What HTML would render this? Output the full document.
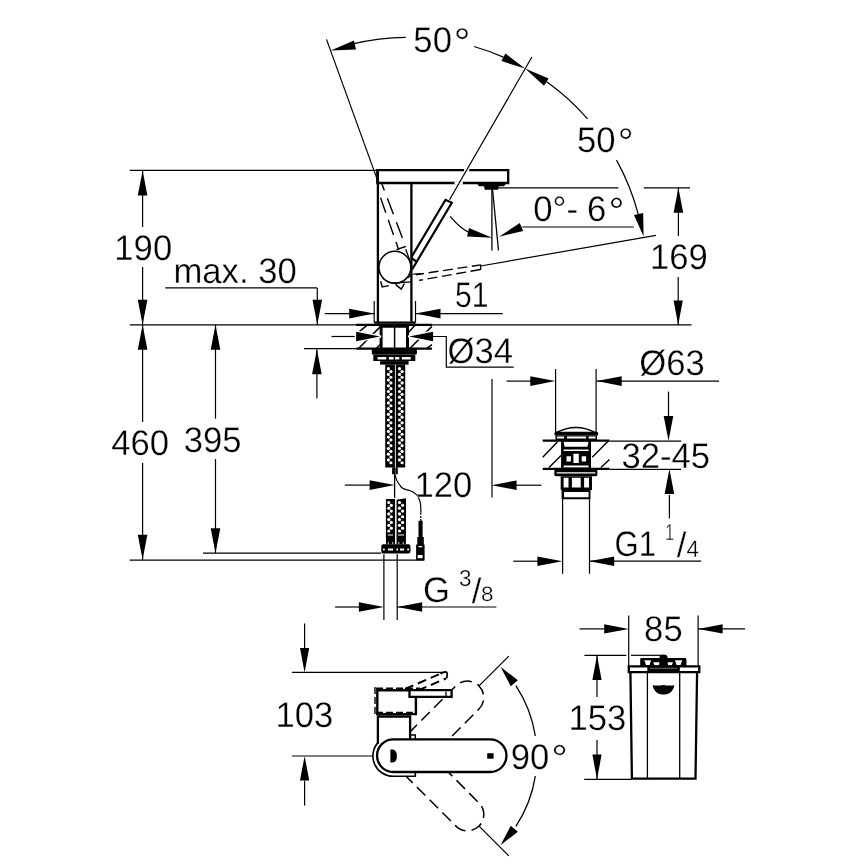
<!DOCTYPE html>
<html><head><meta charset="utf-8"><style>html,body{margin:0;padding:0;background:#fff;}svg{display:block;will-change:transform}</style></head>
<body><svg width="868" height="868" viewBox="0 0 868 868" text-rendering="geometricPrecision" font-family="'Liberation Sans', sans-serif" stroke="#000" fill="none">
<rect x="0" y="0" width="868" height="868" fill="#fff" stroke="none"/>
<defs><pattern id="braid" width="4" height="4" patternUnits="userSpaceOnUse"><rect width="4" height="4" fill="#222"/><circle cx="2" cy="2" r="1.1" fill="#fff"/></pattern></defs>
<line x1="129.70" y1="170.40" x2="377.00" y2="170.40" stroke-width="1.2" />
<line x1="129.70" y1="324.90" x2="691.50" y2="324.90" stroke-width="1.2" />
<line x1="142.60" y1="170.40" x2="142.60" y2="227.00" stroke-width="1.2" />
<polygon points="142.60,170.40 147.40,195.40 137.80,195.40" stroke="none" fill="#000"/>
<line x1="142.60" y1="267.00" x2="142.60" y2="324.80" stroke-width="1.2" />
<polygon points="142.60,324.80 137.80,299.80 147.40,299.80" stroke="none" fill="#000"/>
<line x1="165.20" y1="287.90" x2="317.30" y2="287.90" stroke-width="1.2" />
<line x1="317.30" y1="287.90" x2="317.30" y2="324.80" stroke-width="1.2" />
<polygon points="317.30,324.80 312.50,299.80 322.10,299.80" stroke="none" fill="#000"/>
<line x1="304.00" y1="348.70" x2="356.20" y2="348.70" stroke-width="1.2" />
<line x1="316.90" y1="349.20" x2="316.90" y2="398.40" stroke-width="1.2" />
<polygon points="316.90,349.20 321.70,374.20 312.10,374.20" stroke="none" fill="#000"/>
<line x1="324.70" y1="313.60" x2="374.20" y2="313.60" stroke-width="1.2" />
<polygon points="374.20,313.60 349.20,318.40 349.20,308.80" stroke="none" fill="#000"/>
<line x1="374.20" y1="301.00" x2="374.20" y2="322.60" stroke-width="1.2" />
<line x1="415.50" y1="301.00" x2="415.50" y2="322.60" stroke-width="1.2" />
<line x1="415.50" y1="313.60" x2="502.80" y2="313.60" stroke-width="1.2" />
<polygon points="415.50,313.60 440.50,308.80 440.50,318.40" stroke="none" fill="#000"/>
<line x1="142.60" y1="324.80" x2="142.60" y2="422.00" stroke-width="1.2" />
<polygon points="142.60,324.80 147.40,349.80 137.80,349.80" stroke="none" fill="#000"/>
<line x1="142.60" y1="463.00" x2="142.60" y2="559.70" stroke-width="1.2" />
<polygon points="142.60,559.70 137.80,534.70 147.40,534.70" stroke="none" fill="#000"/>
<line x1="215.50" y1="324.80" x2="215.50" y2="418.70" stroke-width="1.2" />
<polygon points="215.50,324.80 220.30,349.80 210.70,349.80" stroke="none" fill="#000"/>
<line x1="215.50" y1="459.00" x2="215.50" y2="553.20" stroke-width="1.2" />
<polygon points="215.50,553.20 210.70,528.20 220.30,528.20" stroke="none" fill="#000"/>
<line x1="203.00" y1="553.20" x2="381.30" y2="553.20" stroke-width="1.2" />
<line x1="129.70" y1="560.10" x2="424.20" y2="560.10" stroke-width="1.2" />
<path d="M377.3,170.1 H508.2 V183 H377.3 Z" stroke-width="2.3" fill="none" />
<line x1="377.90" y1="170.10" x2="377.90" y2="322.60" stroke-width="2.3" />
<line x1="411.40" y1="183.00" x2="411.40" y2="322.60" stroke-width="2.3" />
<line x1="374.20" y1="322.60" x2="415.50" y2="322.60" stroke-width="2.3" />
<line x1="464.00" y1="170.10" x2="469.20" y2="170.10" stroke-width="3" stroke="#fff"/>
<line x1="454.50" y1="183.00" x2="462.80" y2="183.00" stroke-width="3" stroke="#fff"/>
<line x1="531.90" y1="57.00" x2="449.50" y2="199.80" stroke-width="1.2" />
<path d="M477,183 L506,183 L504,186 L499,186 L498,189.5 L485,189.5 L484,186 L479,186 Z" stroke-width="0.5" fill="#000" />
<line x1="499.00" y1="187.80" x2="618.40" y2="187.80" stroke-width="1.2" />
<line x1="643.80" y1="187.80" x2="690.00" y2="187.80" stroke-width="1.2" />
<line x1="678.40" y1="187.80" x2="678.40" y2="236.00" stroke-width="1.2" />
<polygon points="678.40,187.80 683.20,212.80 673.60,212.80" stroke="none" fill="#000"/>
<line x1="678.20" y1="277.00" x2="678.20" y2="324.90" stroke-width="1.2" />
<polygon points="678.20,324.90 673.60,300.50 682.80,300.50" stroke="none" fill="#000"/>
<line x1="326.50" y1="39.40" x2="377.30" y2="179.60" stroke-width="1.2" />
<line x1="480.60" y1="266.00" x2="655.90" y2="235.30" stroke-width="1.2" />
<path d="M352.96,43.83 A237.9,237.9 0 0 1 405.70,37.31" stroke-width="1.2" fill="none" />
<polygon points="330.70,50.40 353.98,40.41 356.02,49.39" stroke="none" fill="#000"/>
<path d="M473.96,46.54 A237.9,237.9 0 0 1 503.46,57.16" stroke-width="1.2" fill="none" />
<polygon points="525.00,68.60 501.41,61.11 505.39,53.49" stroke="none" fill="#000"/>
<path d="M546.67,81.68 A237.9,237.9 0 0 1 587.56,118.79" stroke-width="1.2" fill="none" />
<polygon points="525.00,68.60 548.61,78.58 543.99,85.82" stroke="none" fill="#000"/>
<path d="M616.54,160.16 A237.9,237.9 0 0 1 638.22,214.10" stroke-width="1.2" fill="none" />
<polygon points="643.60,236.50 634.01,215.02 643.19,212.98" stroke="none" fill="#000"/>
<line x1="522.30" y1="227.00" x2="633.70" y2="227.00" stroke-width="1.2" />
<path d="M450.1,216.3 C455,222 460,228 468,231.8" stroke-width="1.3" fill="none" />
<polygon points="492.20,237.80 467.05,236.49 468.95,228.11" stroke="none" fill="#000"/>
<polygon points="499.10,236.70 519.79,223.05 523.21,230.95" stroke="none" fill="#000"/>
<line x1="491.90" y1="188.00" x2="491.90" y2="250.50" stroke-width="1.3" />
<line x1="492.40" y1="188.00" x2="498.50" y2="250.50" stroke-width="1.3" />
<path d="M411.5,257 L445.5,199.8 L451.8,202.7 L412.1,269.5 M411.5,258 L416.1,261.4" stroke-width="2.2" fill="none" stroke-linejoin="miter"/>
<path d="M394.9,267.3 m-16,0 a16,16 0 1 0 32,0 a16,16 0 1 0 -32,0" stroke-width="1.5" fill="none" />
<path d="M378.2,191 L398.7,249.7" stroke-width="1.4" fill="none" stroke-dasharray="16,7.5" stroke-dashoffset="-7"/>
<path d="M381.2,182 L405.6,246.5" stroke-width="1.4" fill="none" stroke-dasharray="17,8.5" stroke-dashoffset="8"/>
<line x1="396.40" y1="249.70" x2="405.60" y2="246.50" stroke-width="1.4" />
<path d="M405.7,249.2 L412,266.6" stroke-width="1.3" fill="none" />
<path d="M416.1,274.7 L480.6,264.9" stroke-width="1.4" fill="none" stroke-dasharray="10,4.6" stroke-dashoffset="2"/>
<path d="M419,280.4 L480.6,269.5" stroke-width="1.4" fill="none" stroke-dasharray="10,4.6" stroke-dashoffset="6"/>
<line x1="480.60" y1="264.50" x2="480.60" y2="270.00" stroke-width="1.4" />
<path d="M380.7,281.2 L382.2,286.9 L388.9,285.6" stroke-width="1.4" fill="none" />
<path d="M395.5,284.4 L401.2,289.1 L404.4,283.7" stroke-width="1.4" fill="none" />
<line x1="391.10" y1="283.10" x2="412.00" y2="281.80" stroke-width="1.3" />
<line x1="407.60" y1="278.00" x2="412.00" y2="274.20" stroke-width="1.2" />
<line x1="413.30" y1="274.20" x2="420.90" y2="273.60" stroke-width="1.2" />
<line x1="356.20" y1="324.90" x2="431.90" y2="324.90" stroke-width="2.3" />
<line x1="356.20" y1="348.70" x2="431.90" y2="348.70" stroke-width="2.3" />
<line x1="356.20" y1="334.20" x2="367.60" y2="324.90" stroke-width="1.5" />
<line x1="358.80" y1="348.20" x2="380.10" y2="326.90" stroke-width="1.5" />
<line x1="376.40" y1="348.20" x2="380.80" y2="344.00" stroke-width="1.5" />
<line x1="407.50" y1="333.50" x2="414.80" y2="325.40" stroke-width="1.5" />
<line x1="410.10" y1="348.20" x2="431.90" y2="326.40" stroke-width="1.5" />
<line x1="427.20" y1="348.20" x2="431.90" y2="344.60" stroke-width="1.5" />
<path d="M379.6,324.9 H382.6 V348.7 H379.6 Z M406,324.9 H409 V348.7 H406 Z " fill="#000" stroke="none" fill-rule="evenodd" />
<line x1="394.60" y1="324.90" x2="394.60" y2="348.70" stroke-width="1.5" />
<line x1="379.60" y1="326.50" x2="409.00" y2="326.50" stroke-width="2.5" />
<line x1="331.50" y1="336.50" x2="356.20" y2="336.50" stroke-width="1.2" />
<polygon points="380.10,336.50 356.10,341.30 356.10,331.70" stroke="#fff" stroke-width="2.5" stroke-linejoin="round" fill="#000"/>
<polygon points="380.10,336.50 356.10,341.30 356.10,331.70" stroke="none" fill="#000"/>
<polygon points="409.10,336.50 433.10,331.70 433.10,341.30" stroke="#fff" stroke-width="2.5" stroke-linejoin="round" fill="#000"/>
<polygon points="409.10,336.50 433.10,331.70 433.10,341.30" stroke="none" fill="#000"/>
<path d="M433,336.5 H446.3 V367.1 H513.7" stroke-width="1.2" fill="none" />
<path d="M371.8,348.7 H416.9 V353.5 Q416.9,354.4 416,354.4 H372.7 Q371.8,354.4 371.8,353.5 Z" fill="#000" stroke="none" fill-rule="evenodd" />
<path d="M373.3,354.4 H415.3 V361.1 H373.3 Z M377.5,357 H386.3 V359.6 H377.5 Z M388.9,357 H393.6 V359.6 H388.9 Z M395.1,357 H399.3 V359.6 H395.1 Z M401.8,357 H410.7 V359.6 H401.8 Z " fill="#000" stroke="none" fill-rule="evenodd" />
<path d="M380.1,361.1 H408.6 V364.6 H380.1 Z " fill="#000" stroke="none" fill-rule="evenodd" />
<path d="M385.2,364.6 H405.2 V467.4 H385.2 Z " fill="#000" stroke="none" fill-rule="evenodd" />
<line x1="395.40" y1="364.60" x2="395.40" y2="474.30" stroke-width="0.9" stroke="#fff"/>
<path d="M392.1,467.4 H397.8 V474.3 H392.1 Z " fill="#000" stroke="none" fill-rule="evenodd" />
<line x1="395.40" y1="467.40" x2="395.40" y2="474.30" stroke-width="0.5" stroke="#bbb"/>
<circle cx="388.4" cy="368.70" r="1.6" fill="#fff" stroke="none"/>
<circle cx="399.5" cy="368.70" r="1.6" fill="#fff" stroke="none"/>
<circle cx="390.9" cy="371.55" r="1.6" fill="#fff" stroke="none"/>
<circle cx="402.1" cy="371.55" r="1.6" fill="#fff" stroke="none"/>
<circle cx="388.4" cy="374.40" r="1.6" fill="#fff" stroke="none"/>
<circle cx="399.5" cy="374.40" r="1.6" fill="#fff" stroke="none"/>
<circle cx="390.9" cy="377.25" r="1.6" fill="#fff" stroke="none"/>
<circle cx="402.1" cy="377.25" r="1.6" fill="#fff" stroke="none"/>
<circle cx="388.4" cy="380.10" r="1.6" fill="#fff" stroke="none"/>
<circle cx="399.5" cy="380.10" r="1.6" fill="#fff" stroke="none"/>
<circle cx="390.9" cy="382.95" r="1.6" fill="#fff" stroke="none"/>
<circle cx="402.1" cy="382.95" r="1.6" fill="#fff" stroke="none"/>
<circle cx="388.4" cy="385.80" r="1.6" fill="#fff" stroke="none"/>
<circle cx="399.5" cy="385.80" r="1.6" fill="#fff" stroke="none"/>
<circle cx="390.9" cy="388.65" r="1.6" fill="#fff" stroke="none"/>
<circle cx="402.1" cy="388.65" r="1.6" fill="#fff" stroke="none"/>
<circle cx="388.4" cy="391.50" r="1.6" fill="#fff" stroke="none"/>
<circle cx="399.5" cy="391.50" r="1.6" fill="#fff" stroke="none"/>
<circle cx="390.9" cy="394.35" r="1.6" fill="#fff" stroke="none"/>
<circle cx="402.1" cy="394.35" r="1.6" fill="#fff" stroke="none"/>
<circle cx="388.4" cy="397.20" r="1.6" fill="#fff" stroke="none"/>
<circle cx="399.5" cy="397.20" r="1.6" fill="#fff" stroke="none"/>
<circle cx="390.9" cy="400.05" r="1.6" fill="#fff" stroke="none"/>
<circle cx="402.1" cy="400.05" r="1.6" fill="#fff" stroke="none"/>
<circle cx="388.4" cy="402.90" r="1.6" fill="#fff" stroke="none"/>
<circle cx="399.5" cy="402.90" r="1.6" fill="#fff" stroke="none"/>
<circle cx="390.9" cy="405.75" r="1.6" fill="#fff" stroke="none"/>
<circle cx="402.1" cy="405.75" r="1.6" fill="#fff" stroke="none"/>
<circle cx="388.4" cy="408.60" r="1.6" fill="#fff" stroke="none"/>
<circle cx="399.5" cy="408.60" r="1.6" fill="#fff" stroke="none"/>
<circle cx="390.9" cy="411.45" r="1.6" fill="#fff" stroke="none"/>
<circle cx="402.1" cy="411.45" r="1.6" fill="#fff" stroke="none"/>
<circle cx="388.4" cy="414.30" r="1.6" fill="#fff" stroke="none"/>
<circle cx="399.5" cy="414.30" r="1.6" fill="#fff" stroke="none"/>
<circle cx="390.9" cy="417.15" r="1.6" fill="#fff" stroke="none"/>
<circle cx="402.1" cy="417.15" r="1.6" fill="#fff" stroke="none"/>
<circle cx="388.4" cy="420.00" r="1.6" fill="#fff" stroke="none"/>
<circle cx="399.5" cy="420.00" r="1.6" fill="#fff" stroke="none"/>
<circle cx="390.9" cy="422.85" r="1.6" fill="#fff" stroke="none"/>
<circle cx="402.1" cy="422.85" r="1.6" fill="#fff" stroke="none"/>
<circle cx="388.4" cy="425.70" r="1.6" fill="#fff" stroke="none"/>
<circle cx="399.5" cy="425.70" r="1.6" fill="#fff" stroke="none"/>
<circle cx="390.9" cy="428.55" r="1.6" fill="#fff" stroke="none"/>
<circle cx="402.1" cy="428.55" r="1.6" fill="#fff" stroke="none"/>
<circle cx="388.4" cy="431.40" r="1.6" fill="#fff" stroke="none"/>
<circle cx="399.5" cy="431.40" r="1.6" fill="#fff" stroke="none"/>
<circle cx="390.9" cy="434.25" r="1.6" fill="#fff" stroke="none"/>
<circle cx="402.1" cy="434.25" r="1.6" fill="#fff" stroke="none"/>
<circle cx="388.4" cy="437.10" r="1.6" fill="#fff" stroke="none"/>
<circle cx="399.5" cy="437.10" r="1.6" fill="#fff" stroke="none"/>
<circle cx="390.9" cy="439.95" r="1.6" fill="#fff" stroke="none"/>
<circle cx="402.1" cy="439.95" r="1.6" fill="#fff" stroke="none"/>
<circle cx="388.4" cy="442.80" r="1.6" fill="#fff" stroke="none"/>
<circle cx="399.5" cy="442.80" r="1.6" fill="#fff" stroke="none"/>
<circle cx="390.9" cy="445.65" r="1.6" fill="#fff" stroke="none"/>
<circle cx="402.1" cy="445.65" r="1.6" fill="#fff" stroke="none"/>
<circle cx="388.4" cy="448.50" r="1.6" fill="#fff" stroke="none"/>
<circle cx="399.5" cy="448.50" r="1.6" fill="#fff" stroke="none"/>
<circle cx="390.9" cy="451.35" r="1.6" fill="#fff" stroke="none"/>
<circle cx="402.1" cy="451.35" r="1.6" fill="#fff" stroke="none"/>
<circle cx="388.4" cy="454.20" r="1.6" fill="#fff" stroke="none"/>
<circle cx="399.5" cy="454.20" r="1.6" fill="#fff" stroke="none"/>
<circle cx="390.9" cy="457.05" r="1.6" fill="#fff" stroke="none"/>
<circle cx="402.1" cy="457.05" r="1.6" fill="#fff" stroke="none"/>
<circle cx="388.4" cy="459.90" r="1.6" fill="#fff" stroke="none"/>
<circle cx="399.5" cy="459.90" r="1.6" fill="#fff" stroke="none"/>
<circle cx="390.9" cy="462.75" r="1.6" fill="#fff" stroke="none"/>
<circle cx="402.1" cy="462.75" r="1.6" fill="#fff" stroke="none"/>
<line x1="394.60" y1="474.30" x2="394.60" y2="497.80" stroke-width="1.3" />
<line x1="344.80" y1="485.10" x2="370.00" y2="485.10" stroke-width="1.2" />
<polygon points="394.60,485.10 369.60,489.90 369.60,480.30" stroke="none" fill="#000"/>
<line x1="492.00" y1="378.90" x2="492.00" y2="497.60" stroke-width="1.2" />
<path d="M395,474.5 C395.5,479 397,482 401.6,487.5 C404,489.5 406,489.5 409,490.3 C414,492 418.5,495.5 419.7,500.6 C421,504 420.9,508 420.8,512.7" stroke-width="1.2" fill="none" />
<path d="M420.8,512.7 V521" stroke-width="1.2" fill="none" stroke-dasharray="2,1.2"/>
<path d="M418.5,520.8 H422.6 V537 H418.5 Z M417.3,537 H423.8 V544.6 H417.3 Z M416.1,544.6 H424.6 V560.3 H416.1 Z M418.5,546 H422.2 V547.2 H418.5 Z M417.7,555 H422.6 V558.3 H417.7 Z " fill="#000" stroke="none" fill-rule="evenodd" />
<path d="M385.9,499 H395.2 V544.2 H385.9 Z M396.4,499.8 L406,498.2 V544.2 H396.4 Z" fill="#000" stroke="none" fill-rule="evenodd" />
<line x1="395.80" y1="499.00" x2="395.80" y2="544.20" stroke-width="0.9" stroke="#fff"/>
<circle cx="388.8" cy="502.50" r="1.6" fill="#fff" stroke="none"/>
<circle cx="399.5" cy="502.50" r="1.6" fill="#fff" stroke="none"/>
<circle cx="391.3" cy="505.35" r="1.6" fill="#fff" stroke="none"/>
<circle cx="402.6" cy="505.35" r="1.6" fill="#fff" stroke="none"/>
<circle cx="388.8" cy="508.20" r="1.6" fill="#fff" stroke="none"/>
<circle cx="399.5" cy="508.20" r="1.6" fill="#fff" stroke="none"/>
<circle cx="391.3" cy="511.05" r="1.6" fill="#fff" stroke="none"/>
<circle cx="402.6" cy="511.05" r="1.6" fill="#fff" stroke="none"/>
<circle cx="388.8" cy="513.90" r="1.6" fill="#fff" stroke="none"/>
<circle cx="399.5" cy="513.90" r="1.6" fill="#fff" stroke="none"/>
<circle cx="391.3" cy="516.75" r="1.6" fill="#fff" stroke="none"/>
<circle cx="402.6" cy="516.75" r="1.6" fill="#fff" stroke="none"/>
<circle cx="388.8" cy="519.60" r="1.6" fill="#fff" stroke="none"/>
<circle cx="399.5" cy="519.60" r="1.6" fill="#fff" stroke="none"/>
<circle cx="391.3" cy="522.45" r="1.6" fill="#fff" stroke="none"/>
<circle cx="402.6" cy="522.45" r="1.6" fill="#fff" stroke="none"/>
<circle cx="388.8" cy="525.30" r="1.6" fill="#fff" stroke="none"/>
<circle cx="399.5" cy="525.30" r="1.6" fill="#fff" stroke="none"/>
<circle cx="391.3" cy="528.15" r="1.6" fill="#fff" stroke="none"/>
<circle cx="402.6" cy="528.15" r="1.6" fill="#fff" stroke="none"/>
<circle cx="388.8" cy="531.00" r="1.6" fill="#fff" stroke="none"/>
<circle cx="399.5" cy="531.00" r="1.6" fill="#fff" stroke="none"/>
<circle cx="388.3" cy="543" r="0.8" fill="#fff" stroke="none"/>
<circle cx="392.7" cy="543" r="0.8" fill="#fff" stroke="none"/>
<circle cx="398.8" cy="543" r="0.8" fill="#fff" stroke="none"/>
<circle cx="403.2" cy="543" r="0.8" fill="#fff" stroke="none"/>
<path d="M385.4,537 V544.2 M406.5,537 V544.2" stroke-width="1.2" fill="none" stroke="#fff"/>
<path d="M387.9,534.5 H393.1 V535.6 H387.9 Z M398,534.5 H404 V535.6 H398 Z " fill="#fff" stroke="none" fill-rule="evenodd" fill="#fff"/>
<path d="M383.3,544.2 H408.5 Q410.5,544.2 410.5,546.5 V551.2 Q410.5,553.5 408.5,553.5 H383.3 Q381.3,553.5 381.3,551.2 V546.5 Q381.3,544.2 383.3,544.2 Z M383.1,548.6 H384.7 V550.6 H383.1 Z M387.9,548.6 H393.1 V550.6 H387.9 Z M396.4,548.6 H398 V550.6 H396.4 Z M400,548.6 H404 V550.6 H400 Z M407.3,548.6 H408.9 V550.6 H407.3 Z " fill="#000" stroke="none" fill-rule="evenodd" />
<line x1="383.90" y1="554.30" x2="383.90" y2="620.00" stroke-width="1.2" />
<line x1="397.20" y1="554.30" x2="397.20" y2="620.00" stroke-width="1.2" />
<line x1="335.10" y1="607.00" x2="360.00" y2="607.00" stroke-width="1.2" />
<polygon points="383.90,607.00 358.90,611.80 358.90,602.20" stroke="none" fill="#000"/>
<line x1="397.20" y1="607.00" x2="496.40" y2="607.00" stroke-width="1.2" />
<polygon points="397.20,607.00 422.20,602.20 422.20,611.80" stroke="none" fill="#000"/>
<line x1="555.60" y1="369.00" x2="555.60" y2="433.00" stroke-width="1.2" />
<line x1="596.10" y1="369.00" x2="596.10" y2="433.00" stroke-width="1.2" />
<line x1="506.50" y1="381.10" x2="531.00" y2="381.10" stroke-width="1.2" />
<polygon points="555.30,381.10 530.30,385.90 530.30,376.30" stroke="none" fill="#000"/>
<line x1="596.70" y1="381.10" x2="719.00" y2="381.10" stroke-width="1.2" />
<polygon points="596.70,381.10 621.70,376.30 621.70,385.90" stroke="none" fill="#000"/>
<line x1="542.70" y1="440.60" x2="609.50" y2="440.60" stroke-width="2.2" />
<line x1="609.50" y1="441.20" x2="681.20" y2="441.20" stroke-width="1.2" />
<line x1="542.70" y1="468.90" x2="609.50" y2="468.90" stroke-width="2.2" />
<line x1="609.50" y1="469.40" x2="681.20" y2="469.40" stroke-width="1.2" />
<line x1="542.70" y1="457.20" x2="557.60" y2="441.70" stroke-width="1.4" />
<line x1="549.00" y1="467.60" x2="561.10" y2="455.50" stroke-width="1.4" />
<line x1="592.20" y1="457.20" x2="608.30" y2="441.10" stroke-width="1.4" />
<line x1="600.90" y1="467.60" x2="609.50" y2="459.50" stroke-width="1.4" />
<path d="M555.6,433 Q576,422 596.1,433" stroke-width="1.6" fill="none" />
<path d="M556,431.7 H596.6 Q598.3,431.7 598.3,433.7 Q598.3,435.7 596.6,435.7 H556 Q554.3,435.7 554.3,433.7 Q554.3,431.7 556,431.7 Z" stroke-width="0" fill="#000" stroke="none"/>
<path d="M555.5,435.7 H597 V440.6 H555.5 Z M557,436.6 H564.1 V438.6 H557 Z M567,436.6 H586.1 V438.6 H567 Z M588.6,436.6 H595.5 V438.6 H588.6 Z " stroke-width="0" fill="#000" stroke="none" fill-rule="evenodd"/>
<path d="M561.1,440.6 H591 V468.9 H561.1 Z M563.5,441.6 H588.6 L587.5,446.8 H564.6 Z M563.6,449.4 H588.6 V451 H563.6 Z M566.5,456.2 H570.9 V461.6 H566.5 Z M581.7,456.2 H586.1 V461.6 H581.7 Z M573.4,453.8 H578.8 V463.1 H573.4 Z M563.6,465.5 H588.6 V467.5 H563.6 Z " stroke-width="0" fill="#000" stroke="none" fill-rule="evenodd"/>
<path d="M556,468.9 H595.7 Q597.4,468.9 597.4,471 V474.5 Q597.4,476.3 595.7,476.3 H556 Q554.3,476.3 554.3,474.5 V471 Q554.3,468.9 556,468.9 Z M556.7,472.3 H595.4 V473.5 H556.7 Z " stroke-width="0" fill="#000" stroke="none" fill-rule="evenodd"/>
<path d="M560.7,476.3 H592 V490 H560.7 Z M563.6,477.7 H568.5 V487.5 H563.6 Z M571.9,477.7 H580.7 V487.5 H571.9 Z M584.1,477.7 H589 V487.5 H584.1 Z " stroke-width="0" fill="#000" stroke="none" fill-rule="evenodd"/>
<path d="M561.6,490 H590.5 V499.3 H561.6 Z M564.1,492 H588.6 V497.3 H564.1 Z " stroke-width="0" fill="#000" stroke="none" fill-rule="evenodd"/>
<line x1="562.60" y1="499.00" x2="562.60" y2="573.70" stroke-width="1.2" />
<line x1="589.50" y1="499.00" x2="589.50" y2="573.70" stroke-width="1.2" />
<line x1="668.50" y1="391.60" x2="668.50" y2="418.00" stroke-width="1.2" />
<polygon points="668.50,440.90 663.70,415.90 673.30,415.90" stroke="none" fill="#000"/>
<line x1="669.40" y1="518.40" x2="669.40" y2="495.00" stroke-width="1.2" />
<polygon points="669.40,469.00 674.20,494.00 664.60,494.00" stroke="none" fill="#000"/>
<line x1="541.40" y1="485.20" x2="516.00" y2="485.20" stroke-width="1.2" />
<polygon points="491.60,485.20 516.60,480.40 516.60,490.00" stroke="none" fill="#000"/>
<line x1="513.20" y1="561.20" x2="538.00" y2="561.20" stroke-width="1.2" />
<polygon points="562.40,561.20 537.40,566.00 537.40,556.40" stroke="none" fill="#000"/>
<line x1="589.20" y1="561.20" x2="701.20" y2="561.20" stroke-width="1.2" />
<polygon points="589.20,561.20 614.20,556.40 614.20,566.00" stroke="none" fill="#000"/>
<line x1="304.60" y1="623.40" x2="304.60" y2="648.00" stroke-width="1.2" />
<polygon points="304.60,672.40 300.00,647.90 309.20,647.90" stroke="none" fill="#000"/>
<line x1="291.90" y1="672.40" x2="445.80" y2="672.40" stroke-width="1.2" />
<line x1="291.90" y1="756.00" x2="372.90" y2="756.00" stroke-width="1.2" />
<line x1="304.60" y1="805.40" x2="304.60" y2="780.50" stroke-width="1.2" />
<polygon points="304.60,756.00 309.20,780.50 300.00,780.50" stroke="none" fill="#000"/>
<path d="M410.7,731.1 L455.9,685.9 A16.3,16.3 0 0 1 479,709 L448.8,739.4" stroke-width="1.5" fill="none" stroke-dasharray="12,6" stroke-dashoffset="3"/>
<path d="M406.3,776.5 L455.9,826.1 A16.3,16.3 0 0 0 479,803 L448.8,772.6" stroke-width="1.5" fill="none" stroke-dasharray="12,6" stroke-dashoffset="3"/>
<line x1="479.00" y1="685.90" x2="508.80" y2="656.10" stroke-width="1.3" />
<line x1="479.00" y1="826.10" x2="508.80" y2="855.90" stroke-width="1.3" />
<path d="M405,689 L441,673.5 M418,690.5 L446,678.5" stroke-width="2" fill="none" stroke-dasharray="9,5"/>
<path d="M440.5,673.8 Q449.5,668.5 446.5,678.5" stroke-width="1.8" fill="none" />
<path d="M377.9,744 V716.5 H410.1 V741" stroke-width="2.3" fill="#fff" />
<path d="M410.7,734.9 H415.3 V739.5" stroke-width="1.5" fill="none" />
<path d="M377.3,690.2 H415.9 V714.1 H377.3 Z" stroke-width="2.4" fill="#fff" />
<path d="M375,687 V715 M376,688.2 H420 M376,712.4 H414" stroke-width="1.4" fill="none" stroke-dasharray="7,3"/>
<path d="M409.5,690.2 H451.6 V696.9 H409.5 Z" stroke-width="2.3" fill="#fff" />
<path d="M446,691.5 V696" stroke-width="1.3" fill="none" />
<path d="M378.4,742.1 A20.3,20.3 0 0 0 393.3,776.3 H415.3 V772.5" stroke-width="1.6" fill="none" />
<path d="M393.3,739.4 H490.2 A16.3,16.3 0 0 1 490.2,772 H393.3 A16.3,16.3 0 0 1 393.3,739.4 Z" stroke-width="2.3" fill="#fff" />
<path d="M487.2,753.2 H493.6 V758.7 H487.2 Z" stroke-width="0" fill="#000" stroke="none"/>
<path d="M390.4,749.5 H392.5 Q396.9,750 396.9,756 Q396.9,762.4 392.5,762.4 H390.4 Z" stroke-width="0" fill="#000" stroke="none"/>
<path d="M515.85,685.67 A128,128 0 0 1 535.32,735.93" stroke-width="1.3" fill="none" />
<path d="M535.32,776.07 A128,128 0 0 1 515.85,826.33" stroke-width="1.3" fill="none" />
<polygon points="500.50,666.70 517.84,680.36 510.76,686.24" stroke="none" fill="#000"/>
<polygon points="500.50,845.30 510.76,825.76 517.84,831.64" stroke="none" fill="#000"/>
<line x1="628.70" y1="615.50" x2="628.70" y2="667.00" stroke-width="1.2" />
<line x1="698.10" y1="615.50" x2="698.10" y2="667.00" stroke-width="1.2" />
<line x1="579.50" y1="628.90" x2="604.00" y2="628.90" stroke-width="1.2" />
<polygon points="628.70,628.90 604.20,633.50 604.20,624.30" stroke="none" fill="#000"/>
<line x1="698.10" y1="628.90" x2="745.00" y2="628.90" stroke-width="1.2" />
<polygon points="698.10,628.90 722.60,624.30 722.60,633.50" stroke="none" fill="#000"/>
<line x1="584.40" y1="655.30" x2="626.30" y2="655.30" stroke-width="1.2" />
<line x1="631.00" y1="655.30" x2="661.80" y2="655.30" stroke-width="1.2" />
<line x1="584.20" y1="779.30" x2="632.00" y2="779.30" stroke-width="1.2" />
<line x1="597.00" y1="655.30" x2="597.00" y2="697.00" stroke-width="1.2" />
<polygon points="597.00,655.30 601.60,680.00 592.40,680.00" stroke="none" fill="#000"/>
<line x1="597.00" y1="740.00" x2="597.00" y2="779.30" stroke-width="1.2" />
<polygon points="597.00,779.30 592.40,754.60 601.60,754.60" stroke="none" fill="#000"/>
<path d="M641.5,658.1 H685 Q686.4,658.1 686.4,659.5 V666 H640.2 V659.5 Q640.2,658.1 641.5,658.1 Z M644.4,660.2 H651.1 L649.5,664.9 H646 Z M653.2,662.3 H659.9 L659,665.4 H654.5 Z M667.2,662.3 H672.9 L671.8,665.4 H668.2 Z M675,660.2 H682.2 L680.6,664.9 H676.6 Z" fill="#000" stroke="none" fill-rule="evenodd" />
<path d="M659.5,666 V657 Q659.5,654.5 663.5,654.5 Q667.5,654.5 667.5,657 V666 Z" fill="#000" stroke="none" fill-rule="evenodd" />
<path d="M628.8,666.4 H699.3 V672.1 H628.8 Z" stroke-width="2.3" fill="none" />
<path d="M647.3,666.4 H679.8 V672.1 H647.3 Z" fill="#000" stroke="none" fill-rule="evenodd" />
<line x1="650.00" y1="668.30" x2="677.00" y2="668.30" stroke-width="0.8" stroke="#888"/>
<path d="M630.4,672.1 L631.9,778.6 H695.5 L697.1,672.1" stroke-width="2.3" fill="none" />
<line x1="647.40" y1="672.00" x2="647.40" y2="778.60" stroke-width="1.3" />
<line x1="679.70" y1="672.00" x2="679.70" y2="778.60" stroke-width="1.3" />
<path d="M652.7,685.3 Q658,686 663.5,685 Q669,686 674.4,685.3 Q674,688.5 672.5,690 Q670,694.6 663.5,694.4 Q657,694.6 654.5,690 Q653,688.5 652.7,685.3 Z" fill="#000" stroke="none" fill-rule="evenodd" />
<text transform="translate(413.354,52.051) scale(1.0200,1.0450)" font-size="34" fill="#000" stroke="#fff" stroke-width="0.3">50</text>
<text transform="translate(453.744,55.901) scale(1.2337,1.1811)" font-size="34" fill="#000" stroke="#fff" stroke-width="0.3">°</text>
<text transform="translate(576.985,152.335) scale(1.0200,1.0450)" font-size="34" fill="#000" stroke="#fff" stroke-width="0.3">50</text>
<text transform="translate(617.703,155.891) scale(1.1658,1.1811)" font-size="34" fill="#000" stroke="#fff" stroke-width="0.3">°</text>
<text transform="translate(533.279,221.086) scale(1.0200,1.0450)" font-size="34" fill="#000" stroke="#fff" stroke-width="0.3">0°-</text>
<text transform="translate(587.040,221.116) scale(1.0200,1.0450)" font-size="34" fill="#000" stroke="#fff" stroke-width="0.3">6</text>
<text transform="translate(608.473,224.456) scale(1.1771,1.1136)" font-size="34" fill="#000" stroke="#fff" stroke-width="0.3">°</text>
<text transform="translate(114.328,259.713) scale(1.0200,1.0450)" font-size="34" fill="#000" stroke="#fff" stroke-width="0.3">190</text>
<text transform="translate(649.947,269.171) scale(1.0200,1.0450)" font-size="34" fill="#000" stroke="#fff" stroke-width="0.3">169</text>
<text transform="translate(173.439,282.565) scale(1.0200,1.0450)" font-size="34" fill="#000" stroke="#fff" stroke-width="0.3">max. 30</text>
<text transform="translate(454.942,307.384) scale(0.8853,1.0450)" font-size="34" fill="#000" stroke="#fff" stroke-width="0.3">51</text>
<text transform="translate(447.563,362.871) scale(1.0200,1.0450)" font-size="34" fill="#000" stroke="#fff" stroke-width="0.3">Ø34</text>
<text transform="translate(639.257,374.771) scale(1.0200,1.0450)" font-size="34" fill="#000" stroke="#fff" stroke-width="0.3">Ø63</text>
<text transform="translate(111.163,454.567) scale(1.0200,1.0450)" font-size="34" fill="#000" stroke="#fff" stroke-width="0.3">460</text>
<text transform="translate(183.770,452.113) scale(1.0200,1.0450)" font-size="34" fill="#000" stroke="#fff" stroke-width="0.3">395</text>
<text transform="translate(621.441,468.028) scale(1.0200,1.0450)" font-size="34" fill="#000" stroke="#fff" stroke-width="0.3">32-45</text>
<text transform="translate(414.534,497.255) scale(1.0200,1.0450)" font-size="34" fill="#000" stroke="#fff" stroke-width="0.3">120</text>
<text transform="translate(614.623,556.364) scale(0.9143,1.0450)" font-size="34" fill="#000" stroke="#fff" stroke-width="0.3">G1</text>
<text transform="translate(665.284,539.688) scale(0.7174,1.0458)" font-size="22" fill="#000" stroke="#fff" stroke-width="0.3">1</text>
<text transform="translate(676.818,556.574) scale(1.0200,1.0450)" font-size="34" fill="#000" stroke="#fff" stroke-width="0.3">/</text>
<text transform="translate(686.415,557.139) scale(1.0200,1.0733)" font-size="22" fill="#000" stroke="#fff" stroke-width="0.3">4</text>
<text transform="translate(422.894,601.556) scale(1.0200,1.0450)" font-size="34" fill="#000" stroke="#fff" stroke-width="0.3">G</text>
<text transform="translate(458.932,585.759) scale(1.0200,1.0455)" font-size="22" fill="#000" stroke="#fff" stroke-width="0.3">3</text>
<text transform="translate(471.859,602.524) scale(1.0200,1.0450)" font-size="34" fill="#000" stroke="#fff" stroke-width="0.3">/</text>
<text transform="translate(481.011,601.405) scale(1.0200,0.9473)" font-size="22" fill="#000" stroke="#fff" stroke-width="0.3">8</text>
<text transform="translate(644.113,641.326) scale(1.0200,1.0450)" font-size="34" fill="#000" stroke="#fff" stroke-width="0.3">85</text>
<text transform="translate(568.497,730.163) scale(1.0200,1.0450)" font-size="34" fill="#000" stroke="#fff" stroke-width="0.3">153</text>
<text transform="translate(275.382,727.105) scale(1.0200,1.0450)" font-size="34" fill="#000" stroke="#fff" stroke-width="0.3">103</text>
<text transform="translate(510.779,768.665) scale(1.0200,1.0450)" font-size="34" fill="#000" stroke="#fff" stroke-width="0.3">90</text>
<text transform="translate(551.175,770.747) scale(1.2224,1.1023)" font-size="34" fill="#000" stroke="#fff" stroke-width="0.3">°</text>
</svg></body></html>
